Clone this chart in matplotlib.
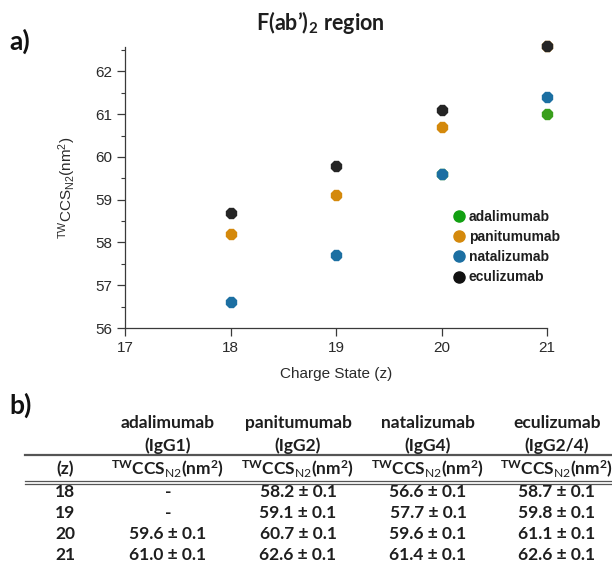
import numpy as np
import matplotlib
matplotlib.use("Agg")
import matplotlib.pyplot as plt
from matplotlib.lines import Line2D
from matplotlib.ticker import MultipleLocator

# ---- data -------------------------------------------------------------
charge_states = [18, 19, 20, 21]
antibodies = ["adalimumab", "panitumumab", "natalizumab", "eculizumab"]
subclasses = ["(IgG1)", "(IgG2)", "(IgG4)", "(IgG2/4)"]
adalimumab_ccs = [np.nan, np.nan, 59.6, 61.0]
panitumumab_ccs = [58.2, 59.1, 60.7, 62.6]
natalizumab_ccs = [56.6, 57.7, 59.6, 61.4]
eculizumab_ccs = [58.7, 59.8, 61.1, 62.6]
ccs_error = 0.1
x_ticks = [17, 18, 19, 20, 21]
y_ticks = [56, 57, 58, 59, 60, 61, 62]

series = [adalimumab_ccs, panitumumab_ccs, natalizumab_ccs, eculizumab_ccs]
colors = ["#3a9f1c", "#d4890c", "#1c6fa2", "#252525"]
legend_colors = ["#12a012", "#d4890c", "#1c6fa2", "#111111"]

plt.rcParams["mathtext.fontset"] = "custom"
plt.rcParams["mathtext.rm"] = "Liberation Sans"
plt.rcParams["mathtext.bf"] = "Lato:bold"
plt.rcParams["mathtext.sf"] = "Lato"
plt.rcParams["mathtext.it"] = "Liberation Sans"

W, H = 612, 565
fig = plt.figure(figsize=(W / 100, H / 100), dpi=100)


def fx(px):
    return px / W


def fy(py):
    return 1 - py / H


# ---- panel a: scatter ---------------------------------------------------
ax = fig.add_axes([fx(125), fy(328), fx(547) - fx(125), fy(46.7) - fy(328)])
for vals, col in zip(series, colors):
    ax.errorbar(charge_states, vals, yerr=ccs_error, fmt="8", color=col,
                ms=8.5, mec=col, elinewidth=1, capsize=0, ls="none",
                clip_on=False, zorder=3)

ax.set_xlim(17, 21)
ax.set_ylim(56, 62.58)
ax.set_xticks(x_ticks)
ax.set_yticks(y_ticks)
ax.yaxis.set_minor_locator(MultipleLocator(0.5))
for s in ("top", "right"):
    ax.spines[s].set_visible(False)
axis_col = "#3a3a3a"
for s in ("left", "bottom"):
    ax.spines[s].set_color(axis_col)
    ax.spines[s].set_linewidth(0.9)
ax.tick_params(axis="both", which="major", direction="out", length=6,
               width=0.9, color=axis_col, labelsize=11, labelcolor="#2a2a2a",
               pad=3)
ax.tick_params(axis="y", which="minor", direction="out", length=3,
               width=0.8, color=axis_col)
for lab in ax.get_xticklabels() + ax.get_yticklabels():
    lab.set_fontfamily("Liberation Sans")

ax.set_xlabel("Charge State (z)", fontsize=11, family="Liberation Sans",
              color="#2a2a2a", labelpad=9)
ax.set_ylabel(r"$^{\mathrm{TW}}$CCS$_{\mathrm{N2}}$(nm$^{2}$)", fontsize=11,
              family="Liberation Sans", color="#2a2a2a")
ax.yaxis.set_label_coords((78 - 125) / (547 - 125), 0.5)

handles = [Line2D([], [], marker="o", ls="none", color=c, ms=8)
           for c in legend_colors]
leg = ax.legend(handles, antibodies, loc="center left",
                bbox_to_anchor=(fx(452), fy(247)), bbox_transform=fig.transFigure,
                frameon=False, handletextpad=0.2, labelspacing=0.45,
                handlelength=1.0, borderpad=0, borderaxespad=0,
                prop={"family": "Liberation Sans", "weight": "bold", "size": 10})
for t in leg.get_texts():
    t.set_color("#1e1e1e")

fig.text(fx(320), fy(23), r"$\mathbf{F(ab’)}_{\mathbf{2}}\mathbf{\ region}$",
         ha="center", va="center", fontsize=15.5, color="#1e1e1e")
fig.text(fx(9), fy(41), "a)", ha="left", va="center", fontsize=19,
         family="Lato", weight="bold", color="#111111")

# ---- panel b: table -----------------------------------------------------
fig.text(fx(9), fy(405), "b)", ha="left", va="center", fontsize=19,
         family="Lato", weight="bold", color="#111111")

text_col = "#1e1e1e"
col_x = [65, 168, 298, 428, 557]
tfs = 12.5
for cx, name, sub in zip(col_x[1:], antibodies, subclasses):
    fig.text(fx(cx), fy(423), name, ha="center", va="center", fontsize=tfs,
             family="Lato", weight="bold", color=text_col)
    fig.text(fx(cx), fy(446), sub, ha="center", va="center", fontsize=tfs,
             family="Lato", weight="bold", color=text_col)
    fig.text(fx(cx), fy(469),
             r"$^{\mathbf{TW}}\mathbf{CCS}_{\mathsf{N2}}\mathbf{(nm}^{\mathbf{2}}\mathbf{)}$",
             ha="center", va="center", fontsize=tfs, color=text_col)
fig.text(fx(col_x[0]), fy(469), "(z)", ha="center", va="center", fontsize=tfs,
         family="Lato", weight="bold", color=text_col)

row_y = [492, 513, 534, 555]
for i, (z, ry) in enumerate(zip(charge_states, row_y)):
    fig.text(fx(col_x[0]), fy(ry), str(z), ha="center", va="center",
             fontsize=tfs, family="Lato", weight="bold", color=text_col)
    for cx, vals in zip(col_x[1:], series):
        v = vals[i]
        s = "-" if np.isnan(v) else f"{v:.1f} ± {ccs_error:.1f}"
        fig.text(fx(cx), fy(ry), s, ha="center", va="center", fontsize=tfs,
                 family="Lato", weight="bold", color=text_col)

rule_col = "#555555"
fig.add_artist(Line2D([fx(25), 1], [fy(455), fy(455)], transform=fig.transFigure,
                      color=rule_col, lw=1.6))
for yy in (481.0, 484.0):
    fig.add_artist(Line2D([fx(25), 1], [fy(yy), fy(yy)],
                          transform=fig.transFigure, color=rule_col, lw=0.9))

fig.savefig("out.png", dpi=100)
